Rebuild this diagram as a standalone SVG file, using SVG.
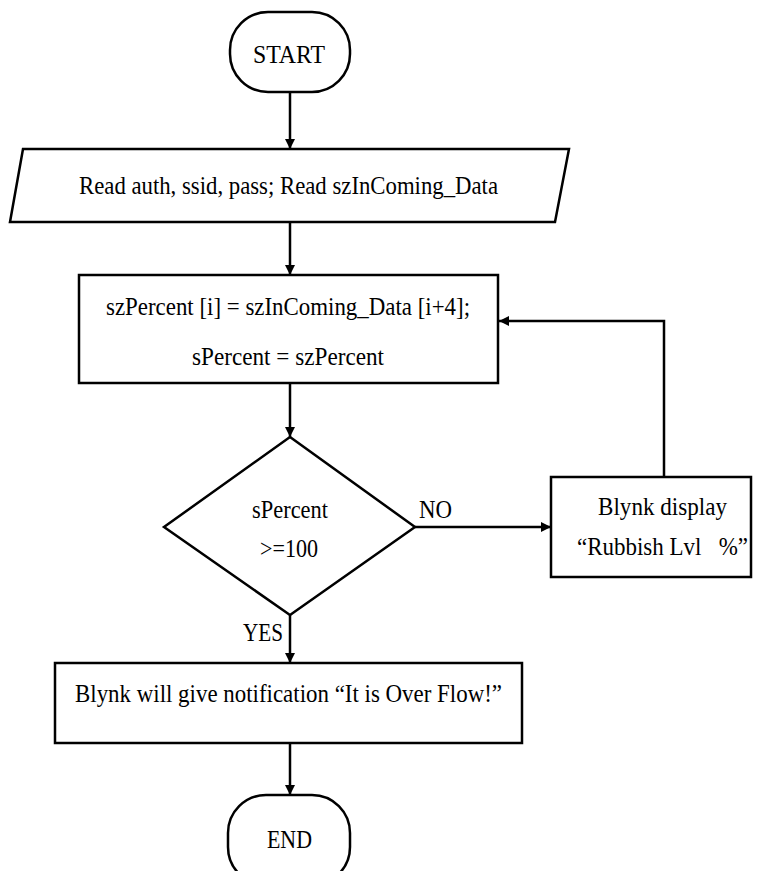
<svg xmlns="http://www.w3.org/2000/svg" width="762" height="871" viewBox="0 0 762 871">
<defs>
<marker id="ah" viewBox="0 0 10 10" refX="10" refY="5" markerWidth="10" markerHeight="10" markerUnits="userSpaceOnUse" orient="auto">
<path d="M0,0 L10,5 L0,10 z" fill="#000"/>
</marker>
<style>
.s{fill:#fff;stroke:#000;stroke-width:2.5}
.t{font-size:25px;fill:#000;text-anchor:middle}
.c{fill:none;stroke:#000;stroke-width:2.5;marker-end:url(#ah)}
</style>
</defs>
<rect width="762" height="871" fill="#fff"/>
<g id="connectors">
<path class="c" d="M290,92 V149"/>
<path class="c" d="M290,222 V275"/>
<path class="c" d="M290,383 V437"/>
<path class="c" d="M415,527 H551"/>
<path class="c" d="M664,477 V321 H499"/>
<path class="c" d="M290,615 V663"/>
<path class="c" d="M290,743 V795"/>
</g>
<g font-family="Liberation Serif, DejaVu Serif, Times New Roman, serif">
<text class="t" x="435.5" y="518" textLength="33" lengthAdjust="spacingAndGlyphs">NO</text>
<text class="t" x="263" y="641" textLength="40" lengthAdjust="spacingAndGlyphs">YES</text>
<g id="start">
<rect class="s" x="230" y="12" width="120" height="80" rx="38" ry="38"/>
<text class="t" x="289" y="63" textLength="72" lengthAdjust="spacingAndGlyphs">START</text>
</g>
<g id="read">
<path class="s" d="M23,149 H569 L555,222 H10 Z"/>
<text class="t" x="288.5" y="194" textLength="419" lengthAdjust="spacingAndGlyphs">Read auth, ssid, pass; Read szInComing_Data</text>
</g>
<g id="assign">
<rect class="s" x="79" y="275" width="419" height="108"/>
<text class="t" x="288" y="315" textLength="364" lengthAdjust="spacingAndGlyphs">szPercent [i] = szInComing_Data [i+4];</text>
<text class="t" x="288" y="365" textLength="192" lengthAdjust="spacingAndGlyphs">sPercent = szPercent</text>
</g>
<g id="decision">
<path class="s" d="M290,437 L415,527 L290,615 L164,527 Z"/>
<text class="t" x="290" y="518" textLength="76" lengthAdjust="spacingAndGlyphs">sPercent</text>
<text class="t" x="289" y="557" textLength="58" lengthAdjust="spacingAndGlyphs">&gt;=100</text>
</g>
<g id="display">
<rect class="s" x="551" y="477" width="200" height="100"/>
<text class="t" x="662.5" y="515" textLength="129" lengthAdjust="spacingAndGlyphs">Blynk display</text>
<text class="t" x="662.5" y="555" textLength="171" lengthAdjust="spacingAndGlyphs" xml:space="preserve">“Rubbish Lvl   %”</text>
</g>
<g id="notify">
<rect class="s" x="55" y="663" width="467" height="80"/>
<text class="t" x="288.5" y="702" textLength="427" lengthAdjust="spacingAndGlyphs">Blynk will give notification “It is Over Flow!”</text>
</g>
<g id="end">
<rect class="s" x="228" y="795" width="122" height="90" rx="38" ry="38"/>
<text class="t" x="289.5" y="848" textLength="45" lengthAdjust="spacingAndGlyphs">END</text>
</g>
</g>
</svg>
